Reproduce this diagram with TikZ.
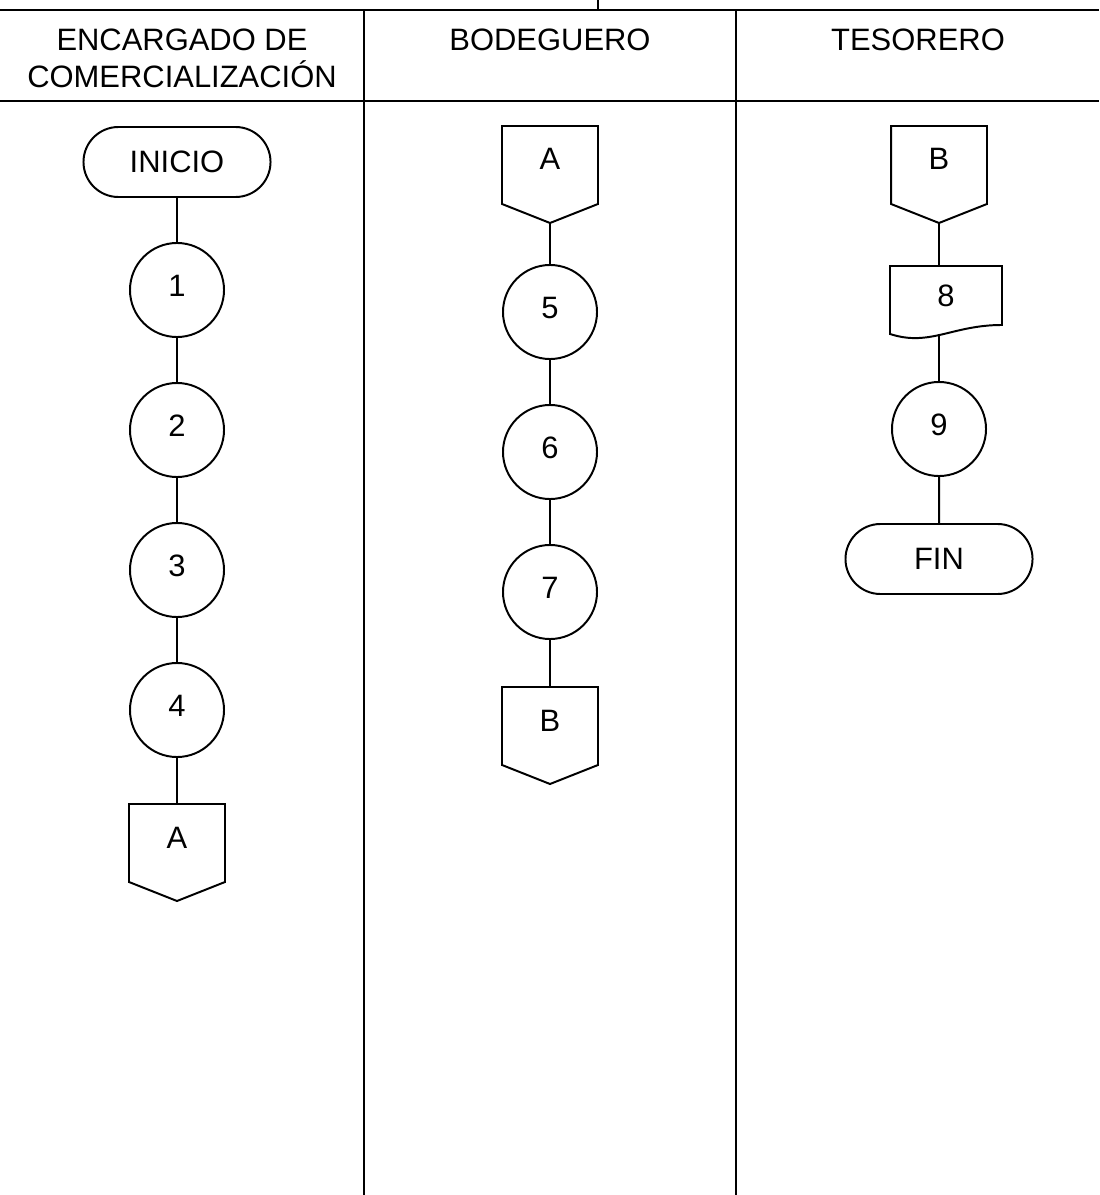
\documentclass[tikz,border=0pt]{standalone}
\usepackage{fontspec}
\setmainfont{Liberation Sans}
\usetikzlibrary{shapes.misc}
\tikzset{
  every node/.style={font=\fontsize{22}{26}\selectfont},
  inicio/.style={draw, rounded rectangle, minimum width=4.675cm, minimum height=1.75cm, inner sep=0pt},
  proceso/.style={draw, circle, minimum size=2.35cm, inner sep=0pt, text height=0.55cm, text depth=0.25cm},
  conector/.style={minimum width=2.35cm, minimum height=1.9cm, inner sep=0pt, text height=0.55cm, text depth=0.3cm, anchor=north},
  documento/.style={minimum width=2.75cm, minimum height=1.425cm, inner sep=0pt, anchor=north},
  cabecera/.style={anchor=north, align=center, inner sep=0pt}
}
% conector de otra pagina: nombre, x, y (arriba), texto
\newcommand{\conectorpag}[4]{%
  \node[conector] (#1) at (#2,#3) {#4};
  \draw (#1.north west) -- (#1.north east) -- (#1.south east) -- ([yshift=-0.475cm]#1.south) coordinate (#1-p) -- (#1.south west) -- cycle;}

\begin{document}
\begin{tikzpicture}[x=0.025cm, y=-0.025cm, line width=1.4pt]
\useasboundingbox (0,0) rectangle (1099,1195);
% lineas de la tabla
\draw (0,10) -- (1099,10);
\draw (598,0) -- (598,10);
\draw (0,101) -- (1099,101);
\draw (364,10) -- (364,1195);
\draw (736,10) -- (736,1195);
% cabeceras
\node[cabecera] (cab1) at (182,28) {ENCARGADO DE\\COMERCIALIZACIÓN};
\node[cabecera] (cab2) at (550,28) {BODEGUERO};
\node[cabecera] (cab3) at (918,28) {TESORERO};
% encargado de comercializacion
\node[inicio] (ini) at (177,162) {INICIO};
\node[proceso] (p1) at (177,290) {1};
\node[proceso] (p2) at (177,430) {2};
\node[proceso] (p3) at (177,570) {3};
\node[proceso] (p4) at (177,710) {4};
\conectorpag{a1}{177}{804}{A}
\draw (ini) -- (p1) -- (p2) -- (p3) -- (p4) -- (a1);
% bodeguero
\conectorpag{a2}{550}{126}{A}
\node[proceso] (p5) at (550,312) {5};
\node[proceso] (p6) at (550,452) {6};
\node[proceso] (p7) at (550,592) {7};
\conectorpag{b2}{550}{687}{B}
\draw (a2-p) -- (p5) -- (p6) -- (p7) -- (b2);
% tesorero
\conectorpag{b3}{939}{126}{B}
\node[documento] (d8) at (946,266) {8};
\draw (d8.north west) -- (d8.north east) -- (d8.south east) .. controls ([xshift=-1.25cm]d8.south east) and ([xshift=1cm,yshift=-0.55cm]d8.south west) .. ([yshift=-0.225cm]d8.south west) -- cycle; %documento
\node[proceso] (p9) at (939,429) {9};
\node[inicio] (fin) at (939,559) {FIN};
\path (d8.south -| p9) ++(0,-0.23cm) coordinate (d8-b);
\draw (b3-p) -- (b3-p |- d8.north);
\draw (d8-b) -- (p9) -- (fin);
\end{tikzpicture}
\end{document}
